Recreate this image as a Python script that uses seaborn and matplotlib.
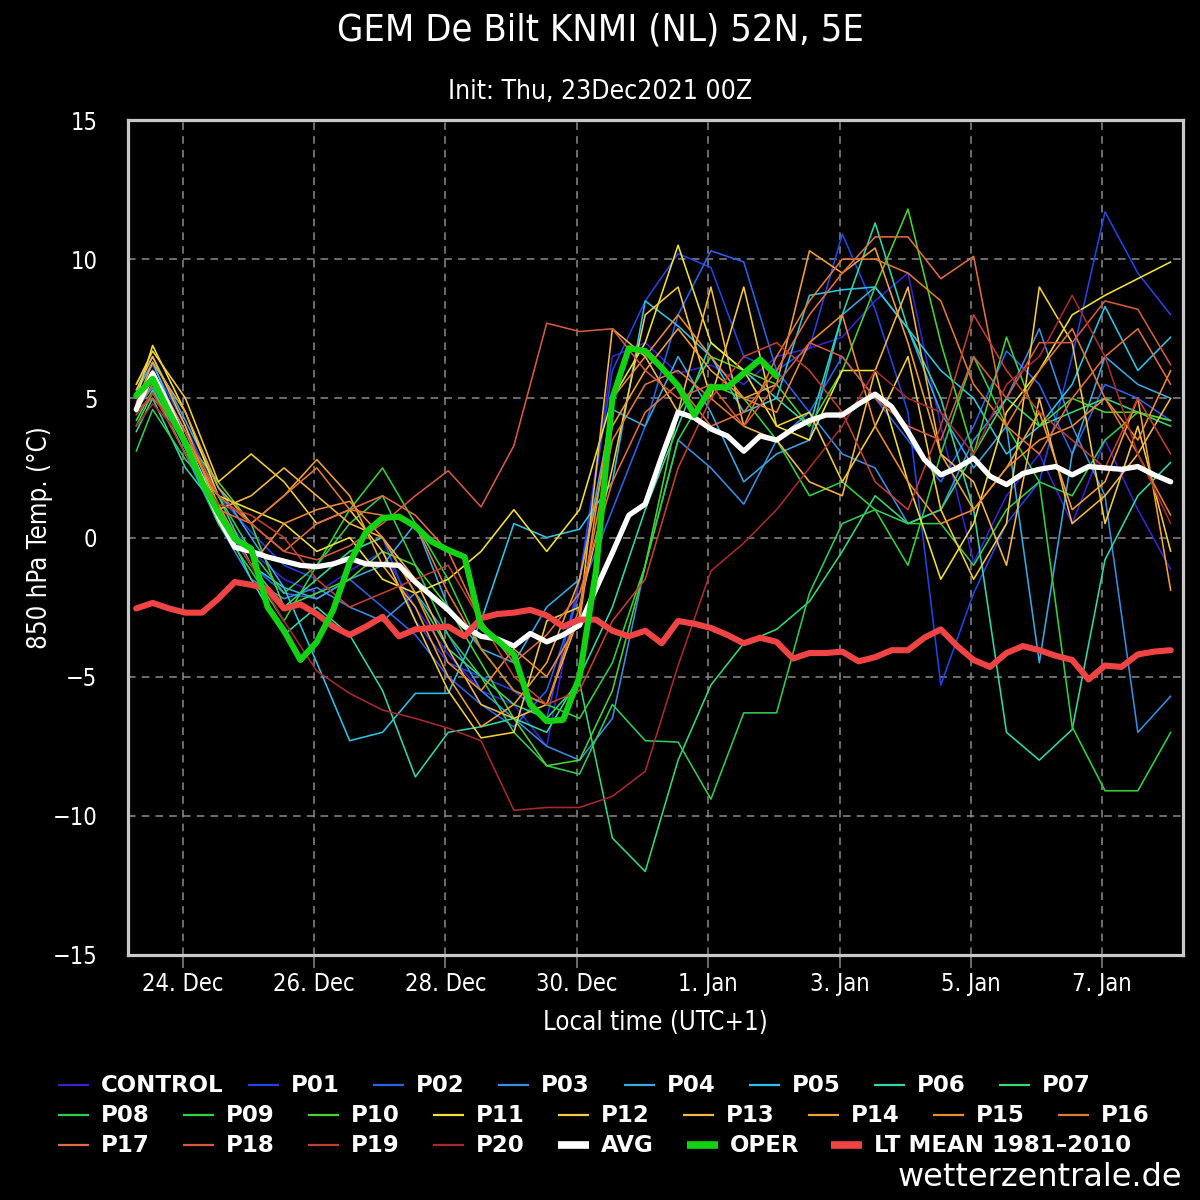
import matplotlib
matplotlib.use("Agg")
import matplotlib.pyplot as plt
import matplotlib.dates as mdates
from matplotlib.lines import Line2D
import pandas as pd
import seaborn as sns

# ---------------- data ----------------
init_local = pd.Timestamp("2021-12-23 01:00")  # 00Z in UTC+1
hours_6h = list(range(6, 385, 6))             # 64 steps (AVG, LT MEAN)
hours_mem = [6] + list(range(12, 385, 12))    # 33 steps (members)
hours_oper = list(range(6, 241, 6))           # 40 steps (OPER)

member_names = ["CONTROL"] + [f"P{i:02d}" for i in range(1, 21)]
member_colors = ["#3a22d0", "#2244e6", "#2a62ea", "#3a8de2", "#38a8e2", "#2cc4e6",
                 "#2fd8a8", "#34d874", "#30cc52", "#2fd23e", "#48d42c",
                 "#f2e232", "#f4cc3c", "#f4b844", "#f2a232", "#f08c30", "#e27a30",
                 "#e26c40", "#d45a40", "#c2402e", "#a82a2a"]

control = [4.9, 5.6, 3.8, 1.0, -0.5, -1.5, -2.0, -1.2, -0.5, -2.5, -4.2, -5.5, -6.0, -7.5, -1.5, 6.5, 7.0, 5.9, 6.2, 5.5, 6.5, 6.8, 7.2, 8.5, 9.5, 4.0, -0.9, 1.5, 3.0, 0.5, 3.5, 1.0, -1.15]
p01 = [5.3, 6.2, 4.0, 1.5, 0.2, -1.0, -1.5, -0.5, 0.0, -3.0, -4.5, -5.0, -5.5, -6.5, -1.5, 6.0, 8.5, 10.2, 9.7, 6.5, 6.0, 6.8, 10.9, 8.2, 4.5, -5.3, -2.0, 0.5, 2.0, 6.5, 11.7, 9.5, 8.0]
p02 = [5.0, 6.0, 3.5, 0.8, -1.0, -2.0, -2.2, -1.5, -2.5, -3.5, -5.0, -6.0, -6.8, -5.5, -2.0, 1.0, 4.0, 8.0, 10.3, 9.9, 6.0, 4.5, 6.5, 5.0, 3.5, 2.0, 4.0, 6.7, 5.5, 3.0, 5.5, 5.0, 4.2]
p03 = [4.6, 5.4, 3.0, 0.5, -1.5, -2.2, -1.8, -2.5, -3.0, -2.0, -3.5, -5.5, -6.5, -7.5, -8.0, -6.5, -1.0, 3.5, 2.5, 1.2, 3.5, 4.5, 3.0, 2.5, 0.5, 1.0, 3.5, 5.0, 7.5, 4.0, 1.5, -7.0, -5.7]
p04 = [5.5, 6.5, 4.2, 1.8, 0.0, -1.8, -2.2, -1.5, -1.0, 0.5, -2.5, -4.0, -4.5, -2.5, -1.5, 4.6, 4.0, 6.5, 4.5, 2.0, 3.0, 3.5, 8.0, 9.0, 7.5, 4.5, 2.5, 4.0, -4.5, 3.0, 6.5, 5.5, 5.0]
p05 = [5.2, 6.3, 3.5, 1.0, -1.0, -1.8, -4.5, -7.3, -7.0, -5.6, -5.6, -3.0, 0.5, 0.0, 0.3, 2.0, 8.5, 7.6, 6.5, 4.5, 5.0, 8.7, 8.9, 9.0, 7.5, 6.0, 5.0, 3.0, 4.0, 5.5, 8.3, 6.0, 7.2]
p06 = [3.8, 5.0, 2.5, 1.0, -1.5, -3.5, -2.5, -3.5, -5.5, -8.6, -7.0, -6.8, -6.5, -7.0, -5.0, -2.5, 1.0, 4.0, 7.0, 6.0, 5.0, 4.0, 8.0, 11.3, 7.5, 5.0, 1.0, -7.0, -8.0, -6.9, -0.8, 1.5, 2.7]
p07 = [4.2, 5.3, 3.0, 1.5, -1.0, -2.5, -1.5, -0.5, 0.0, -2.0, -4.0, -5.0, -6.0, -6.5, -5.2, -10.8, -12.0, -8.0, -5.3, -3.8, -3.3, -2.3, -0.5, 1.5, 0.5, 1.0, 3.0, 5.0, 4.0, 4.5, 5.0, 4.5, 4.0]
p08 = [3.1, 4.6, 2.8, 1.5, -0.5, -2.0, -1.0, 0.5, 1.5, -1.0, -3.5, -5.0, -7.0, -8.2, -8.5, -6.0, -7.3, -7.35, -9.4, -6.3, -6.3, -2.0, 0.5, 1.0, 0.5, 0.5, -1.0, 1.0, 2.0, 1.5, 3.5, 4.5, 4.2]
p09 = [4.5, 5.8, 3.2, 0.5, -1.2, -3.0, -1.0, 1.0, 2.5, 0.5, -1.5, -4.0, -5.5, -6.0, -6.5, -4.5, -1.0, 3.5, 5.5, 5.0, 3.5, 1.5, 2.0, 1.0, -1.0, 3.0, 6.5, 4.0, 2.0, -6.8, -9.1, -9.1, -7.0]
p10 = [4.0, 5.2, 3.5, 2.0, 0.5, -2.5, -2.0, -1.5, -0.5, -1.0, -2.5, -4.5, -6.5, -8.2, -8.0, -5.5, -1.0, 4.5, 6.5, 6.0, 5.5, 4.0, 6.0, 9.0, 11.8, 7.0, 3.0, 7.2, 4.0, 5.0, 4.5, 4.5, 4.2]
p11 = [5.0, 6.9, 4.5, 1.5, 1.0, 0.5, -0.5, 0.0, -1.5, -2.0, -1.5, -0.5, 1.0, -0.5, 1.0, 5.0, 7.0, 10.5, 7.0, 6.0, 4.0, 3.5, 6.0, 6.0, 2.0, -1.5, 0.5, 4.5, 6.0, 8.0, 8.7, 9.3, 9.9]
p12 = [5.5, 6.7, 5.0, 2.0, 3.0, 2.0, 0.5, 1.0, -0.5, -3.0, -5.5, -7.2, -7.0, -3.0, -2.5, 2.5, 8.0, 9.0, 5.0, 9.0, 4.0, 4.5, 2.0, 4.0, 6.5, 1.0, -1.5, 0.5, 9.0, 7.0, 0.5, 4.0, -0.5]
p13 = [5.3, 6.5, 4.0, 1.0, 1.5, 2.5, 1.5, 0.5, 0.0, -1.5, -4.0, -6.0, -6.5, -6.0, -2.8, 7.5, 6.5, 4.5, 9.0, 4.0, 3.5, 2.0, 1.5, 6.0, 9.0, 3.0, 2.0, -1.0, 5.0, 0.5, 1.5, 3.0, 5.0]
p14 = [4.8, 6.3, 4.5, 1.8, 0.5, 1.5, 2.8, 1.5, -1.0, -2.5, -5.0, -6.8, -6.0, -4.5, -1.5, 4.0, 6.0, 7.5, 6.0, 5.0, 5.5, 10.3, 9.5, 10.4, 7.0, 3.0, 1.0, 2.5, 4.5, 1.0, 2.0, 5.0, -1.9]
p15 = [5.0, 6.0, 3.8, 1.2, -1.0, 0.5, 1.0, 1.3, 0.0, -2.0, -4.5, -5.5, -4.0, -5.0, -3.0, 5.0, 6.5, 8.0, 6.5, 5.0, 4.5, 7.0, 8.0, 4.0, 2.0, 0.5, 1.0, 2.5, 3.5, 4.0, 5.0, 3.5, 6.0]
p16 = [4.6, 5.5, 3.5, 1.5, 0.5, 1.5, 2.5, 1.0, 0.8, 0.5, -2.0, -4.0, -5.5, -6.0, -2.5, 3.5, 5.5, 6.0, 5.0, 4.0, 6.5, 8.5, 10.0, 10.0, 9.5, 8.5, 5.5, 4.0, 6.0, 7.5, 5.0, 3.0, 0.8]
p17 = [5.0, 6.0, 3.5, 1.0, 0.5, -0.5, 0.5, 1.0, 1.5, 0.8, -0.5, -3.0, -4.5, -3.5, -2.0, 2.0, 4.5, 5.5, 4.0, 4.5, 6.0, 8.0, 9.5, 10.8, 10.8, 9.3, 10.1, 4.0, 3.0, 5.0, 6.5, 7.5, 5.5]
p18 = [4.6, 5.0, 3.8, 1.5, 0.5, -0.5, -0.8, -0.3, 0.5, 1.5, 2.4, 1.1, 3.3, 7.7, 7.4, 7.5, 6.0, 5.0, 5.5, 4.0, 5.5, 7.0, 6.5, 5.0, 4.0, 3.5, 6.5, 5.0, 7.0, 7.0, 8.5, 8.2, 6.2]
p19 = [4.4, 5.2, 3.0, 1.2, 0.8, 0.0, -1.5, -2.5, -2.0, -1.5, -1.0, -3.0, -5.0, -6.0, -5.5, -3.0, -1.5, 2.5, 5.0, 6.5, 7.0, 6.0, 4.5, 2.0, 1.0, 4.0, 8.0, 6.0, 4.5, 3.5, 2.5, 5.0, 3.0]
p20 = [4.0, 4.8, 3.5, 1.0, -1.0, -3.0, -4.8, -5.6, -6.2, -6.5, -6.85, -7.3, -9.8, -9.7, -9.7, -9.3, -8.4, -4.6, -1.2, -0.2, 1.0, 2.5, 4.0, 6.0, 5.0, 4.5, 3.0, 5.5, 6.5, 8.7, 6.5, 3.0, 0.5]
members = [control, p01, p02, p03, p04, p05, p06, p07, p08, p09, p10,
           p11, p12, p13, p14, p15, p16, p17, p18, p19, p20]

avg = [4.6, 5.9, 4.7, 3.4, 2.1, 0.75, -0.35, -0.5, -0.7, -0.85,
       -1.0, -1.05, -0.95, -0.75, -0.95, -0.97, -1.0, -1.6, -2.1, -2.6,
       -3.2, -3.55, -3.65, -3.9, -3.45, -3.75, -3.5, -3.15, -1.85, -0.55,
       0.8, 1.2, 2.9, 4.5, 4.3, 3.9, 3.65, 3.1, 3.65, 3.5,
       3.9, 4.2, 4.4, 4.4, 4.8, 5.15, 4.7, 3.8, 2.8, 2.25,
       2.5, 2.85, 2.2, 1.9, 2.3, 2.45, 2.55, 2.25, 2.55, 2.5,
       2.45, 2.55, 2.25, 2.0]
oper = [5.1, 5.7, 4.5, 3.4, 2.0, 0.9, -0.05, -0.4, -2.5, -3.35,
        -4.4, -3.75, -2.6, -0.9, 0.2, 0.7, 0.75, 0.4, -0.15, -0.45,
        -0.7, -3.2, -3.7, -4.2, -6.0, -6.6, -6.55, -5.0, -1.2, 5.0,
        6.8, 6.7, 6.1, 5.45, 4.4, 5.4, 5.4, 5.9, 6.4, 5.8]
lt_mean = [-2.55, -2.35, -2.55, -2.7, -2.7, -2.2, -1.6, -1.7, -1.85, -2.55,
           -2.4, -2.75, -3.2, -3.5, -3.2, -2.85, -3.55, -3.3, -3.25, -3.2,
           -3.55, -2.9, -2.75, -2.7, -2.6, -2.8, -3.2, -2.95, -2.95, -3.35,
           -3.55, -3.35, -3.8, -3.0, -3.1, -3.25, -3.5, -3.8, -3.6, -3.75,
           -4.35, -4.15, -4.15, -4.1, -4.45, -4.3, -4.05, -4.05, -3.6, -3.3,
           -3.9, -4.4, -4.65, -4.15, -3.9, -4.05, -4.25, -4.4, -5.1, -4.6,
           -4.65, -4.2, -4.1, -4.05]

y_ticks = [-15, -10, -5, 0, 5, 10, 15]
x_tick_days = ["2021-12-24", "2021-12-26", "2021-12-28", "2021-12-30",
               "2022-01-01", "2022-01-03", "2022-01-05", "2022-01-07"]

title = "GEM De Bilt KNMI (NL) 52N, 5E"
subtitle = "Init: Thu, 23Dec2021 00Z"
x_label = "Local time (UTC+1)"
y_label = "850 hPa Temp. (°C)"
credit = "wetterzentrale.de"

# ---------------- plot ----------------
sns.set_theme(style="dark")
plt.rcParams["font.family"] = ["DejaVu Sans"]
plt.rcParams["font.stretch"] = "condensed"

def to_time(hours):
    return [init_local + pd.Timedelta(hours=h) for h in hours]

t6 = to_time(hours_6h)
tm = to_time(hours_mem)
to = to_time(hours_oper)

W = H = 1200.0
fig = plt.figure(figsize=(12, 12), dpi=100, facecolor="black")
ax = fig.add_axes([128 / W, 1 - 955 / H, (1183 - 128) / W, (955 - 120) / H])
ax.set_facecolor("black")

for vals, col in zip(members, member_colors):
    sns.lineplot(x=tm, y=vals, color=col, lw=1.15, ax=ax, legend=False)

avg_color, oper_color, lt_color = "#ffffff", "#12d212", "#f04444"
sns.lineplot(x=t6, y=avg, color=avg_color, lw=3.8, ax=ax, legend=False)
sns.lineplot(x=t6, y=lt_mean, color=lt_color, lw=4.4, ax=ax, legend=False)
sns.lineplot(x=to, y=oper, color=oper_color, lw=4.4, ax=ax, legend=False)

ax.set_ylim(-15, 15)
ax.set_yticks(y_ticks)
ax.set_xlim(init_local + pd.Timedelta(hours=3), init_local + pd.Timedelta(hours=388.5))
ax.set_xticks(pd.to_datetime(x_tick_days))
ax.xaxis.set_major_formatter(mdates.DateFormatter("%-d. %b"))

ax.grid(True, color="#8a8a8a", ls=(0, (5, 4)), lw=1.1)
for s in ax.spines.values():
    s.set_visible(True)
    s.set_color("#c8c8c8")
    s.set_linewidth(2.3)

ax.tick_params(axis="x", bottom=True, direction="out", length=9, width=1.1,
               color="#8a8a8a", labelcolor="white", labelsize=17, pad=3)
ax.tick_params(axis="y", left=True, length=0, labelcolor="white", labelsize=17, pad=22)

ax.set_xlabel(x_label, color="white", fontsize=18.5, labelpad=10)
ax.set_ylabel(y_label, color="white", fontsize=18.5, labelpad=0)

fig.text(0.5, 1 - 30 / H, title, color="white", fontsize=27.3, ha="center", va="center")
fig.text(0.5, 1 - 92 / H, subtitle, color="white", fontsize=19, ha="center", va="center")
fig.text(1182 / W, 1 - 1178 / H, credit, color="white", fontsize=23,
         ha="right", va="center", fontstretch="normal")

# ---------------- legend (flow layout like the original) ----------------
legend_names = member_names + ["AVG", "OPER", "LT MEAN 1981-2010"]
legend_colors = member_colors + [avg_color, oper_color, lt_color]
legend_widths = [1.6] * len(member_names) + [5.5, 5.5, 5.5]
row_y = [1085, 1115, 1145]
slots = ([(0, 58), (0, 248), (0, 373), (0, 498), (0, 624), (0, 749), (0, 874), (0, 999)] +
         [(1, 58 + 125 * i) for i in range(9)] +
         [(2, 58), (2, 183), (2, 308), (2, 433), (2, 558), (2, 687), (2, 831)])
for name, col, lw, (r, x0) in zip(legend_names, legend_colors, legend_widths, slots):
    yy = 1 - row_y[r] / H
    fig.add_artist(Line2D([x0 / W, (x0 + 31) / W], [yy, yy], color=col, lw=lw,
                          transform=fig.transFigure, solid_capstyle="butt"))
    fig.text((x0 + 43) / W, yy, name.replace("-", "–"), color="white", fontsize=16.5,
             fontweight="bold", fontstretch="normal", ha="left", va="center")

fig.savefig("out.png", dpi=100, facecolor="black")
